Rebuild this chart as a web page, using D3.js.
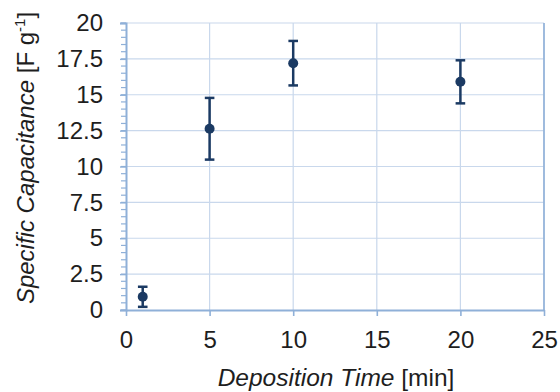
<!DOCTYPE html>
<html>
<head>
<meta charset="utf-8">
<script src="https://cdn.jsdelivr.net/npm/d3@7"></script>
<style>
  body { margin: 0; background: #fff; }
  svg text { font-family: "Liberation Sans", Arial, sans-serif; fill: #1e1e1e; }
</style>
</head>
<body>
<div id="chart"></div>
<script>
// Deposition time (min) vs specific capacitance (F/g) with error bars
const times = [1, 5, 10, 20];
const capacitance = [0.92, 12.63, 17.2, 15.9];
const errors = [0.7, 2.15, 1.55, 1.5];
const xTicks = [0, 5, 10, 15, 20, 25];
const yTicks = [0, 2.5, 5, 7.5, 10, 12.5, 15, 17.5, 20];

const width = 560, height = 392;
const margin = { top: 23, right: 16, bottom: 82, left: 126 };
const w = width - margin.left - margin.right;
const h = height - margin.top - margin.bottom;

const axisColor = '#8fb0d8';
const gridColor = '#c9d8ec';
const markColor = '#1b3a63';

const svg = d3.select('#chart').append('svg')
    .attr('width', width)
    .attr('height', height);
const g = svg.append('g')
    .attr('transform', `translate(${margin.left},${margin.top})`);

const x = d3.scaleLinear().domain([0, 25]).range([0, w]);
const y = d3.scaleLinear().domain([0, 20]).range([h, 0]);

// grid lines
g.append('g').selectAll('line')
  .data(xTicks.slice(1))
  .enter().append('line')
  .attr('x1', d => x(d)).attr('x2', d => x(d))
  .attr('y1', 0).attr('y2', h)
  .attr('stroke', gridColor).attr('stroke-width', 1.2);

g.append('g').selectAll('line')
  .data(yTicks.slice(1))
  .enter().append('line')
  .attr('x1', 0).attr('x2', w)
  .attr('y1', d => y(d)).attr('y2', d => y(d))
  .attr('stroke', gridColor).attr('stroke-width', 1.2);

// right border
g.append('line')
  .attr('x1', w).attr('x2', w).attr('y1', 0).attr('y2', h)
  .attr('stroke', axisColor).attr('stroke-width', 1.6);

// y minor ticks
g.append('g').selectAll('line')
  .data(d3.range(0, 20.01, 0.5))
  .enter().append('line')
  .attr('x1', -5).attr('x2', 0)
  .attr('y1', d => y(d)).attr('y2', d => y(d))
  .attr('stroke', axisColor).attr('stroke-width', 1.2);

// y axis
const yAxis = g.append('g')
  .call(d3.axisLeft(y).tickValues(yTicks).tickSize(6).tickPadding(17).tickFormat(d3.format('')));
yAxis.select('.domain').attr('stroke', axisColor).attr('stroke-width', 2);
yAxis.selectAll('.tick line').attr('stroke', axisColor).attr('stroke-width', 1.4);
yAxis.selectAll('.tick text')
  .style('font-size', '24px').attr('fill', '#1e1e1e');

// x axis
const xAxis = g.append('g')
  .attr('transform', `translate(0,${h})`)
  .call(d3.axisBottom(x).tickValues(xTicks).tickSize(6).tickSizeOuter(0).tickPadding(15));
xAxis.select('.domain').attr('stroke', axisColor).attr('stroke-width', 2);
xAxis.selectAll('.tick line').attr('stroke', axisColor).attr('stroke-width', 1.6);
xAxis.selectAll('.tick text')
  .style('font-size', '24px').attr('fill', '#1e1e1e');

// error bars
const bars = g.append('g').selectAll('g')
  .data(times.map((t, i) => ({ t, v: capacitance[i], e: errors[i] })))
  .enter().append('g');

bars.append('line')
  .attr('x1', d => x(d.t)).attr('x2', d => x(d.t))
  .attr('y1', d => y(d.v + d.e)).attr('y2', d => y(d.v - d.e))
  .attr('stroke', markColor).attr('stroke-width', 2.5);

[1, -1].forEach(s => {
  bars.append('line')
    .attr('x1', d => x(d.t) - 4.8).attr('x2', d => x(d.t) + 4.8)
    .attr('y1', d => y(d.v + s * d.e)).attr('y2', d => y(d.v + s * d.e))
    .attr('stroke', markColor).attr('stroke-width', 2.5);
});

bars.append('circle')
  .attr('cx', d => x(d.t)).attr('cy', d => y(d.v))
  .attr('r', 5)
  .attr('fill', markColor);

// axis titles
const xTitle = svg.append('text')
  .attr('x', 336)
  .attr('y', 386)
  .attr('text-anchor', 'middle')
  .style('font-size', '24.5px');
xTitle.append('tspan').style('font-style', 'italic').text('Deposition Time');
xTitle.append('tspan').text(' [min]');

const yTitle = svg.append('text')
  .attr('transform', `translate(34,158) rotate(-90)`)
  .attr('text-anchor', 'middle')
  .style('font-size', '24px');
yTitle.append('tspan').style('font-style', 'italic').text('Specific Capacitance');
yTitle.append('tspan').text(' [F g');
yTitle.append('tspan').attr('dy', -9).style('font-size', '15px').text('-1');
yTitle.append('tspan').attr('dy', 9).text(']');
</script>
</body>
</html>
